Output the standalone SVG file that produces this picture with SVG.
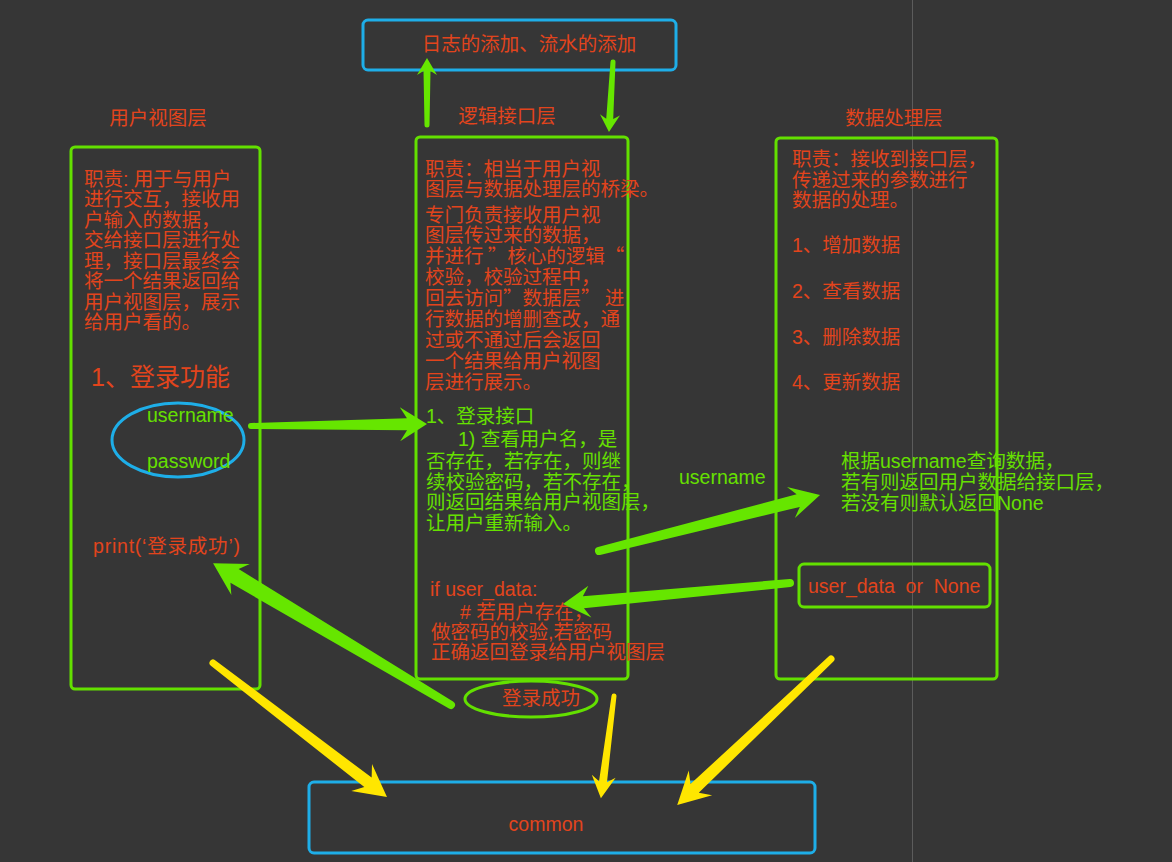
<svg xmlns="http://www.w3.org/2000/svg" width="1172" height="862" viewBox="0 0 1172 862">
<style>
.bg{fill:#363636}
.box{fill:none;stroke:#63e000;stroke-width:3}
.bbox{fill:none;stroke:#1eaee8;stroke-width:3}
.cn{font-family:"Noto Sans CJK SC","Liberation Sans",sans-serif;font-size:19.5px}
.en{font-family:"Liberation Sans","Noto Sans CJK SC",sans-serif;font-size:19.5px}
.red{fill:#e2441c}
.grn{fill:#66e000}
.ga{fill:#66e600}
.ya{fill:#ffe600}
</style>
<rect class="bg" x="0" y="0" width="1172" height="862"/>
<line x1="912.5" y1="0" x2="912.5" y2="862" stroke="#5c5c5c" stroke-width="1"/>

<g id="log">
<rect class="bbox" x="363" y="20" width="313" height="50" rx="5"/>
<text class="cn red" x="529" y="51" text-anchor="middle">日志的添加、流水的添加</text>
</g>

<g id="view-layer">
<text class="cn red" x="158" y="125" text-anchor="middle">用户视图层</text>
<rect class="box" x="71" y="147" width="189" height="542" rx="4"/>
<text class="en red">
<tspan x="84" y="185.5">职责: 用于与用户</tspan>
<tspan x="84" y="206">进行交互，接收用</tspan>
<tspan x="84" y="226.5">户输入的数据，</tspan>
<tspan x="84" y="247">交给接口层进行处</tspan>
<tspan x="84" y="267.5">理，接口层最终会</tspan>
<tspan x="84" y="288">将一个结果返回给</tspan>
<tspan x="84" y="308.5">用户视图层，展示</tspan>
<tspan x="84" y="329">给用户看的。</tspan>
</text>
<text class="en red" x="91" y="386" style="font-size:25px">1、登录功能</text>
<ellipse cx="178" cy="440" rx="66" ry="37" fill="none" stroke="#1eaee8" stroke-width="3"/>
<text class="en grn" x="147" y="422">username</text>
<text class="en grn" x="147" y="468">password</text>
<text class="en red" x="93" y="553" textLength="147" lengthAdjust="spacing">print(‘登录成功’)</text>
</g>

<g id="logic-layer">
<text class="cn red" x="507" y="123" text-anchor="middle">逻辑接口层</text>
<rect class="box" x="416" y="137" width="212" height="542" rx="4"/>
<text class="cn red">
<tspan x="425" y="175.5">职责：相当于用户视</tspan>
<tspan x="425" y="195.5">图层与数据处理层的桥梁。</tspan>
<tspan x="425" y="221.5">专门负责接收用户视</tspan>
<tspan x="425" y="242.4">图层传过来的数据，</tspan>
<tspan x="425" y="263.3">并进行 ”核心的逻辑“</tspan>
<tspan x="425" y="284.2">校验，校验过程中，</tspan>
<tspan x="425" y="305.1">回去访问”数据层” 进</tspan>
<tspan x="425" y="326">行数据的增删查改，通</tspan>
<tspan x="425" y="346.9">过或不通过后会返回</tspan>
<tspan x="425" y="367.8">一个结果给用户视图</tspan>
<tspan x="425" y="388.7">层进行展示。</tspan>
</text>
<text class="en grn">
<tspan x="426" y="423">1、登录接口</tspan>
<tspan x="458" y="446">1) 查看用户名，是</tspan>
<tspan x="426" y="467.5">否存在，若存在，则继</tspan>
<tspan x="426" y="488.5">续校验密码，若不存在，</tspan>
<tspan x="426" y="509">则返回结果给用户视图层，</tspan>
<tspan x="426" y="529.5">让用户重新输入。</tspan>
</text>
<text class="en red">
<tspan x="430" y="596">if user_data:</tspan>
<tspan x="460" y="619"># 若用户存在，</tspan>
<tspan x="431" y="639">做密码的校验,若密码</tspan>
<tspan x="431" y="659">正确返回登录给用户视图层</tspan>
</text>
</g>

<g id="login-success">
<ellipse cx="531" cy="699" rx="66" ry="18" fill="none" stroke="#63e000" stroke-width="3"/>
<text class="cn red" x="541" y="705" text-anchor="middle">登录成功</text>
</g>

<g id="data-layer">
<text class="cn red" x="894" y="125" text-anchor="middle">数据处理层</text>
<rect class="box" x="776" y="138" width="221" height="541" rx="4"/>
<text class="en red">
<tspan x="792" y="165.5">职责：接收到接口层，</tspan>
<tspan x="792" y="186.5">传递过来的参数进行</tspan>
<tspan x="792" y="207">数据的处理。</tspan>
<tspan x="792" y="252">1、增加数据</tspan>
<tspan x="792" y="298">2、查看数据</tspan>
<tspan x="792" y="344">3、删除数据</tspan>
<tspan x="792" y="389">4、更新数据</tspan>
</text>
<text class="en grn">
<tspan x="841" y="467.5">根据username查询数据，</tspan>
<tspan x="841" y="488.5">若有则返回用户数据给接口层，</tspan>
<tspan x="841" y="510">若没有则默认返回None</tspan>
</text>
</g>

<g id="user-data">
<rect class="box" x="799" y="564" width="191" height="43" rx="5"/>
<text class="en red" x="808" y="593" xml:space="preserve">user_data  or  None</text>
</g>

<g id="common">
<rect class="bbox" x="309" y="782" width="506" height="71" rx="5"/>
<text class="en red" x="546" y="831" text-anchor="middle">common</text>
</g>

<g id="connectors">
<text class="en grn" x="679" y="484">username</text>
<path class="ga" transform="translate(427,125) rotate(-90)" d="M0,-2.5 L54,-3.5 L50,-10 L67,0 L50,10 L54,3.5 L0,2.5 A2.5,2.5 0 0 1 0,-2.5Z"/>
<path class="ga" transform="translate(613,62) rotate(93.3)" d="M0,-2.5 L57,-3.5 L53,-10 L70,0 L53,10 L57,3.5 L0,2.5 A2.5,2.5 0 0 1 0,-2.5Z"/>
<path class="ga" transform="translate(251,426) rotate(-0.65)" d="M0,-3 L156,-6 L149,-17 L176,0 L149,17 L156,6 L0,3 A3,3 0 0 1 0,-3Z"/>
<path class="ga" transform="translate(451,705) rotate(-149.2)" d="M0,-4 L252,-8 L245,-18 L277,0 L245,18 L252,8 L0,4 A4,4 0 0 1 0,-4Z"/>
<path class="ga" transform="translate(599,551) rotate(-14.2)" d="M0,-4 L205.5,-6.5 L198,-16 L228,0 L198,16 L205.5,6.5 L0,4 A4,4 0 0 1 0,-4Z"/>
<path class="ga" transform="translate(790,583) rotate(174.7)" d="M0,-4 L207.5,-6 L201,-16 L228,0 L201,16 L207.5,6 L0,4 A4,4 0 0 1 0,-4Z"/>
<path class="ya" transform="translate(213,663) rotate(37.6)" d="M0,-3.5 L195.6,-6 L187.6,-17 L219.6,0 L187.6,17 L195.6,6 L0,3.5 A3.5,3.5 0 0 1 0,-3.5Z"/>
<path class="ya" transform="translate(614,696) rotate(97.3)" d="M0,-2.5 L86.5,-4 L81,-12 L103,0 L81,12 L86.5,4 L0,2.5 A2.5,2.5 0 0 1 0,-2.5Z"/>
<path class="ya" transform="translate(831,659) rotate(136.5)" d="M0,-3.5 L188,-6 L180,-17 L212,0 L180,17 L188,6 L0,3.5 A3.5,3.5 0 0 1 0,-3.5Z"/>
</g>
</svg>
